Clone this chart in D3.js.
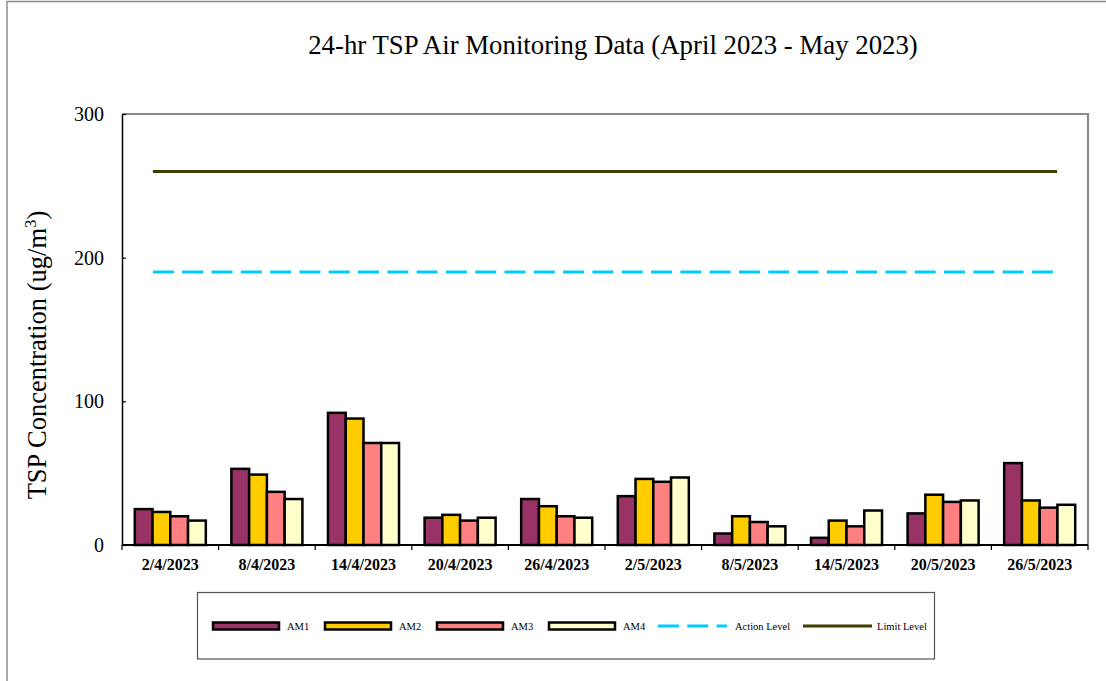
<!DOCTYPE html>
<html>
<head>
<meta charset="utf-8">
<script src="https://cdn.jsdelivr.net/npm/d3@7"></script>
<style>
  html, body { margin: 0; padding: 0; background: #fff; }
  svg { display: block; font-family: "Liberation Serif", "Times New Roman", serif; }
</style>
</head>
<body>
<svg id="chart" width="1106" height="681"></svg>
<script>
// ---- data ----
const categories = ["2/4/2023","8/4/2023","14/4/2023","20/4/2023","26/4/2023","2/5/2023","8/5/2023","14/5/2023","20/5/2023","26/5/2023"];
const seriesNames = ["AM1","AM2","AM3","AM4"];
const am1 = [25, 53, 92, 19, 32, 34, 8, 5, 22, 57];
const am2 = [23, 49, 88, 21, 27, 46, 20, 17, 35, 31];
const am3 = [20, 37, 71, 17, 20, 44, 16, 13, 30, 26];
const am4 = [17, 32, 71, 19, 19, 47, 13, 24, 31, 28];
const actionLevel = 190;
const limitLevel = 260;
const yTicks = [0, 100, 200, 300];
const titleText = "24-hr TSP Air Monitoring Data (April 2023 - May 2023)";

const seriesValues = [am1, am2, am3, am4];
const seriesColors = ["#993366", "#FFCC00", "#FF8080", "#FFFFCC"];
const actionColor = "#00CCFF";
const limitColor = "#3F3F00";

// ---- layout ----
const svg = d3.select("#chart");
const plot = {left: 122, top: 114, right: 1088, bottom: 545};

// outer frame
svg.append("rect").attr("x", 7).attr("y", 1.5).attr("width", 1120).attr("height", 720)
  .attr("fill", "none").attr("stroke", "#8c8c8c").attr("stroke-width", 1.5);

const x0 = d3.scaleBand().domain(categories).range([plot.left, plot.right]).padding(0);
const x1 = d3.scaleBand().domain(seriesNames).range([0, x0.bandwidth()]).paddingInner(0).paddingOuter(0.72);
const y = d3.scaleLinear().domain([0, 300]).range([plot.bottom, plot.top]);

// plot border: top & right gray
svg.append("path")
  .attr("d", `M${plot.left},${plot.top}H${plot.right}V${plot.bottom}`)
  .attr("fill", "none").attr("stroke", "#8a8a8a").attr("stroke-width", 2.2);

// title
svg.append("text").attr("x", 613).attr("y", 54).attr("text-anchor", "middle")
  .attr("font-size", 26.8).attr("fill", "#000").text(titleText);

// y axis
const yAxis = d3.axisLeft(y).tickValues(yTicks).tickSizeInner(-4).tickSizeOuter(0).tickPadding(18);
const gy = svg.append("g").attr("transform", `translate(${plot.left},0)`).call(yAxis);
gy.select(".domain").attr("stroke", "#000").attr("stroke-width", 1.5);
gy.selectAll(".tick line").attr("stroke", "#000").attr("stroke-width", 1.2);
gy.selectAll(".tick text").attr("font-size", 20).attr("font-family", "Liberation Serif, serif").attr("fill", "#000");

// y title
const yt = svg.append("text").attr("transform", "translate(46,355) rotate(-90)")
  .attr("text-anchor", "middle").attr("font-size", 26.5).attr("fill", "#000");
yt.append("tspan").text("TSP Concentration (ug/m");
yt.append("tspan").attr("font-size", 17).attr("dy", -10).text("3");
yt.append("tspan").attr("dy", 10).text(")");

// action & limit lines
const first = categories[0], last = categories[categories.length - 1];
const lx1 = x0(first) + x0.bandwidth() * 0.32;
const lx2 = x0(last) + x0.bandwidth() * 0.68;
svg.append("line").attr("x1", lx1).attr("x2", lx2).attr("y1", y(actionLevel)).attr("y2", y(actionLevel))
  .attr("stroke", actionColor).attr("stroke-width", 3).attr("stroke-dasharray", "21,8.3");
svg.append("line").attr("x1", lx1).attr("x2", lx2).attr("y1", y(limitLevel)).attr("y2", y(limitLevel))
  .attr("stroke", limitColor).attr("stroke-width", 3);

// bars
const groups = svg.append("g").selectAll("g").data(categories).join("g")
  .attr("transform", d => `translate(${x0(d)},0)`);
groups.selectAll("rect")
  .data((d, i) => seriesNames.map((s, j) => ({s, j, v: seriesValues[j][i]})))
  .join("rect")
  .attr("x", d => x1(d.s))
  .attr("y", d => y(d.v))
  .attr("width", x1.bandwidth())
  .attr("height", d => y(0) - y(d.v))
  .attr("fill", d => seriesColors[d.j])
  .attr("stroke", "#000").attr("stroke-width", 2.5);

// x axis line & ticks at category boundaries
svg.append("line").attr("x1", plot.left).attr("x2", plot.right).attr("y1", plot.bottom).attr("y2", plot.bottom)
  .attr("stroke", "#000").attr("stroke-width", 1.8);
const boundaries = categories.map(c => x0(c)).concat([x0(last) + x0.step()]);
svg.append("g").selectAll("line").data(boundaries).join("line")
  .attr("x1", d => d).attr("x2", d => d).attr("y1", plot.bottom).attr("y2", plot.bottom + 5)
  .attr("stroke", "#000").attr("stroke-width", 1.2);
svg.append("g").selectAll("text").data(categories).join("text")
  .attr("x", d => x0(d) + x0.bandwidth() / 2).attr("y", 570)
  .attr("text-anchor", "middle").attr("font-size", 16).attr("font-weight", "bold").attr("fill", "#000")
  .text(d => d);

// legend
svg.append("rect").attr("x", 197.5).attr("y", 592.5).attr("width", 737).attr("height", 66.5)
  .attr("fill", "#fff").attr("stroke", "#555").attr("stroke-width", 1.2);
const legY = 626;
const legendItems = [
  {label: "AM1", type: "bar", color: seriesColors[0], x: 212},
  {label: "AM2", type: "bar", color: seriesColors[1], x: 324},
  {label: "AM3", type: "bar", color: seriesColors[2], x: 436},
  {label: "AM4", type: "bar", color: seriesColors[3], x: 548},
  {label: "Action Level", type: "dash", color: actionColor, x: 658},
  {label: "Limit Level", type: "line", color: limitColor, x: 803}
];
const lg = svg.append("g");
legendItems.forEach(it => {
  if (it.type === "bar") {
    lg.append("rect").attr("x", it.x + 1).attr("y", legY - 3.5).attr("width", 66).attr("height", 7)
      .attr("fill", it.color).attr("stroke", "#000").attr("stroke-width", 2.5);
    lg.append("text").attr("x", it.x + 75).attr("y", legY + 3.5).attr("font-size", 10.5).attr("fill", "#000").text(it.label);
  } else {
    lg.append("line").attr("x1", it.x).attr("x2", it.x + 69).attr("y1", legY).attr("y2", legY)
      .attr("stroke", it.color).attr("stroke-width", 3)
      .attr("stroke-dasharray", it.type === "dash" ? "21,8.3" : null);
    lg.append("text").attr("x", it.x + (it.type === "dash" ? 77 : 74)).attr("y", legY + 3.5)
      .attr("font-size", 10.5).attr("fill", "#000").text(it.label);
  }
});
</script>
</body>
</html>
